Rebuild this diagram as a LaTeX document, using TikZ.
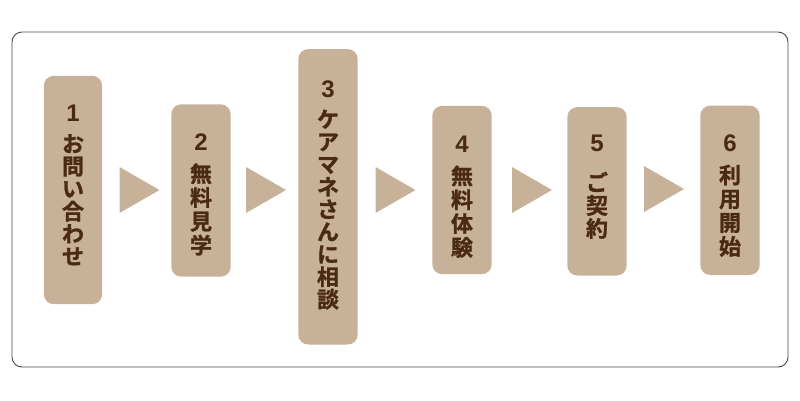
\documentclass[tikz,border=0pt]{standalone}
\usepackage{fontspec}
\newfontfamily\jp{Noto Sans CJK JP}[BoldFont={Noto Sans CJK JP Bold}, BoldFeatures={FakeBold=1.2}]
\newfontfamily\num{Liberation Sans}
\definecolor{boxfill}{HTML}{C8B199}
\definecolor{txt}{HTML}{4A2A12}
\definecolor{frame}{HTML}{4E463F}
\tikzset{
  stepbox/.style={fill=boxfill, rounded corners=10pt, inner sep=0pt},
  steptext/.style={anchor=north, align=center, text=txt, inner sep=0pt,
    font=\jp\bfseries\fontsize{22}{22.5}\selectfont},
  widepitch/.style={font=\jp\bfseries\fontsize{22}{23.8}\selectfont},
  arrowtri/.style={fill=boxfill, draw=none},
}
\newcommand{\nm}[2][8pt]{{\num\bfseries\fontsize{24}{24}\selectfont #2}\\[#1]}
\begin{document}
\begin{tikzpicture}[x=1pt,y=-1pt]
\useasboundingbox (0,0) rectangle (800,400);
\draw[frame, line width=0.9pt, rounded corners=10pt] (12,32) rectangle (788,367);
% boxes
\node[inner sep=0pt, minimum width=58pt, minimum height=228pt] (b1) at (73,190) {};
\node[inner sep=0pt, minimum width=59pt, minimum height=172pt] (b2) at (201,190.5) {};
\node[inner sep=0pt, minimum width=59pt, minimum height=295pt] (b3) at (328,196.8) {};
\node[inner sep=0pt, minimum width=59pt, minimum height=168pt] (b4) at (462,190) {};
\node[inner sep=0pt, minimum width=59pt, minimum height=168pt] (b5) at (597,191.3) {};
\node[inner sep=0pt, minimum width=59pt, minimum height=169pt] (b6) at (730,190.3) {};
\foreach \b in {b1,b2,b3,b4,b5,b6}
  \path[stepbox] (\b.north west) rectangle (\b.south east);
% texts
\node[steptext] (t1) at ([yshift=-29pt]b1.north) {\nm{1}お\\問\\い\\合\\わ\\せ};
\node[steptext, widepitch] (t2) at ([yshift=-29pt]b2.north) {\nm{2}無\\料\\見\\学};
\node[steptext] (t3) at ([yshift=-31pt]b3.north) {\nm{3}ケ\\ア\\マ\\ネ\\さ\\ん\\に\\相\\談};
\node[steptext, widepitch] (t4) at ([yshift=-30pt]b4.north) {\nm{4}無\\料\\体\\験};
\node[steptext, font=\jp\bfseries\fontsize{22}{23}\selectfont] (t5) at ([yshift=-28pt]b5.north) {\nm[16pt]{5}ご\\契\\約};
\node[steptext, widepitch] (t6) at ([yshift=-29pt]b6.north) {\nm{6}利\\用\\開\\始};
% arrows
\coordinate (a1) at (119.5,190);
\coordinate (a2) at (246,190);
\coordinate (a3) at (375.5,190);
\coordinate (a4) at (512,190);
\coordinate (a5) at (644,189);
\foreach \a in {a1,a2,a3,a4,a5}
  \fill[arrowtri] ([yshift=-23pt]\a) -- ([xshift=40pt]\a) -- ([yshift=23pt]\a) -- cycle;
\end{tikzpicture}
\end{document}
